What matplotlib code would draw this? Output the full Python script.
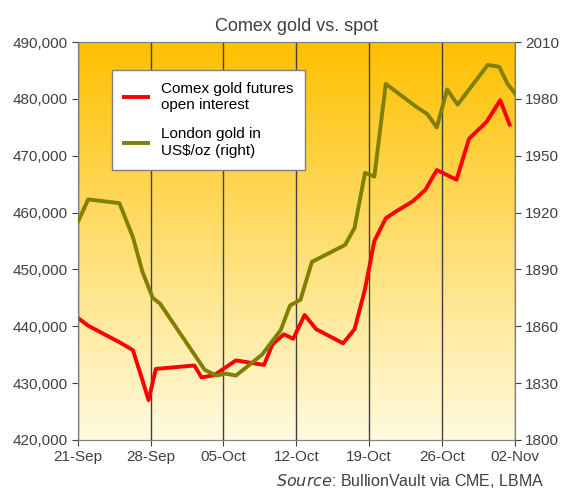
import numpy as np
import matplotlib.pyplot as plt
import matplotlib.dates as mdates
import pandas as pd
from matplotlib.colors import LinearSegmentedColormap

plt.rcParams['font.family'] = ['Liberation Sans', 'DejaVu Sans']

# days after 21-Sep-2020
red_day = [0, 1, 4, 5.3, 6.2, 6.8, 7.5, 11.2, 11.9, 13.1, 15.2, 17.9, 18.7, 19.8, 20.7, 21.8, 22.9,
           25.5, 26.6, 27.6, 28.5, 29.6, 30.4, 32.2, 33.4, 34.5, 36.4, 37.6, 39.3, 40.6, 41.5]
red_val = [441500, 440100, 437200, 435800, 430600, 427000, 432500, 433100, 431000, 431400, 434000,
           433200, 436800, 438600, 437800, 442000, 439500, 437000, 439500, 446500, 455000, 459000,
           460000, 462000, 464000, 467500, 465800, 473000, 476000, 479800, 475500]

green_day = [0, 1, 4, 5.3, 6.2, 7.2, 7.9, 12.2, 13.3, 14.2, 15.2, 17.7, 19.5, 20.4, 21.4, 22.5,
             25.7, 26.6, 27.6, 28.5, 29.6, 32.5, 33.6, 34.5, 35.5, 36.5, 39.4, 40.5, 41.3, 42]
green_val = [1915, 1927, 1925, 1907, 1889, 1875, 1872, 1837, 1834, 1835, 1834, 1845, 1858, 1871,
             1874, 1894, 1903, 1912, 1941, 1939, 1988, 1976, 1972, 1965, 1985, 1977, 1998, 1997,
             1988, 1983]

start = pd.Timestamp('2020-09-21')
red_x = [start + pd.Timedelta(days=d) for d in red_day]
green_x = [start + pd.Timedelta(days=d) for d in green_day]

fig = plt.figure(figsize=(5.85, 4.96), dpi=100)
fig.patch.set_facecolor('white')
ax = fig.add_axes([0.133, 0.113, 0.747, 0.802])

# yellow gradient background
grad = np.linspace(1, 0, 256).reshape(-1, 1)
cmap = LinearSegmentedColormap.from_list('g', ['#FFFBE0', '#FFC000'])
ax.imshow(grad, cmap=cmap, aspect='auto', extent=[0, 1, 0, 1], transform=ax.transAxes, zorder=0)

ax.plot(red_x, red_val, color='#FF0000', lw=2.8, zorder=3, label='Comex gold futures\nopen interest')
ax.set_ylim(420000, 490000)
ax.set_yticks(np.arange(420000, 490001, 10000))
ax.yaxis.set_major_formatter(plt.FuncFormatter(lambda v, p: f'{int(v):,}'))
ax.set_xlim(start, start + pd.Timedelta(days=42))
ticks = [start + pd.Timedelta(days=7 * i) for i in range(7)]
ax.set_xticks(ticks)
ax.xaxis.set_major_formatter(mdates.DateFormatter('%d-%b'))
ax.grid(axis='x', color='#404040', lw=1, zorder=1)

ax2 = ax.twinx()
ax2.plot(green_x, green_val, color='#808000', lw=2.8, zorder=3, label='London gold in\nUS$/oz (right)')
ax2.set_ylim(1800, 2010)
ax2.set_yticks(np.arange(1800, 2011, 30))

for a in (ax, ax2):
    a.tick_params(labelsize=11, colors='#404040', length=4)
    for s in a.spines.values():
        s.set_color('#808080')

h1, l1 = ax.get_legend_handles_labels()
h2, l2 = ax2.get_legend_handles_labels()
leg = ax2.legend(h1 + h2, l1 + l2, loc='upper left', bbox_to_anchor=(0.06, 0.95), fontsize=11,
                 fancybox=False, edgecolor='#808080', framealpha=1, labelspacing=1.0,
                 handlelength=1.6, borderpad=0.8)
leg.get_frame().set_facecolor('white')

ax.set_title('Comex gold vs. spot', fontsize=13, color='#404040', pad=8)
fig.text(0.93, 0.02, '$Source$: BullionVault via CME, LBMA', ha='right', fontsize=11.5, color='#404040')

fig.savefig('out.png', dpi=100)
